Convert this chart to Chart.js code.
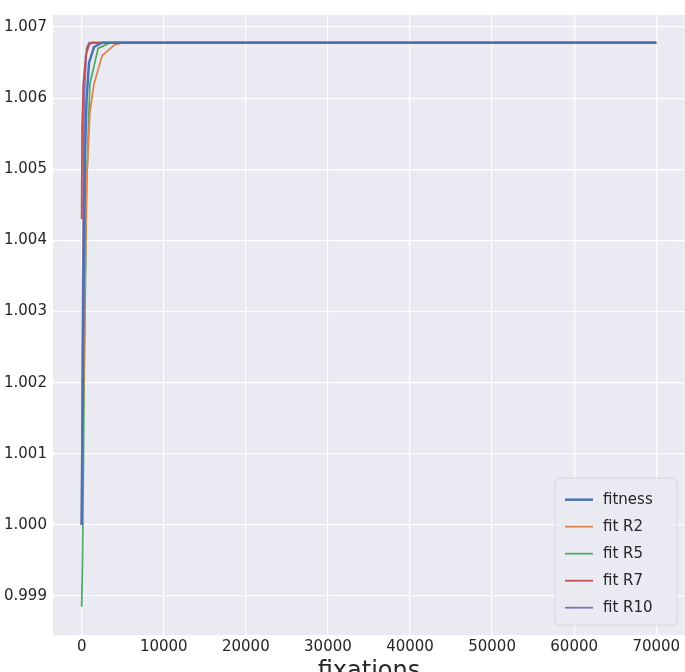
<!DOCTYPE html>
<html><head><meta charset="utf-8">
<script src="https://cdn.jsdelivr.net/npm/chart.js@4/dist/chart.umd.min.js"></script>
<style>html,body{margin:0;background:#fff;overflow:hidden}#wrap{width:685px;height:672px}</style>
</head><body><div id="wrap"><canvas id="c"></canvas></div>
<script>
const labels = ['fitness', 'fit R2', 'fit R5', 'fit R7', 'fit R10'];
const colors = ['#4C72B0', '#DD8452', '#55A868', '#C44E52', '#8172B3'];
const fitness = [[0,1.0],[200,1.003],[400,1.0052],[600,1.006],[900,1.0065],[1500,1.00672],[2500,1.00678],[70000,1.00678]];
const fitR2 = [[0,1.0],[300,1.0025],[600,1.0048],[1000,1.0058],[1500,1.0062],[2500,1.0066],[4000,1.00675],[5000,1.00678],[70000,1.00678]];
const fitR5 = [[0,0.99885],[100,0.9995],[300,1.002],[600,1.0048],[1000,1.0062],[2000,1.0067],[3500,1.00678],[70000,1.00678]];
const fitR7 = [[0,1.0043],[50,1.0056],[200,1.0062],[500,1.0066],[900,1.00675],[1200,1.00678],[70000,1.00678]];
const fitR10 = [[0,1.0],[100,1.003],[300,1.006],[600,1.0067],[900,1.00678],[70000,1.00678]];
const series = [fitness, fitR2, fitR5, fitR7, fitR10];
const widths = [2.5, 1.8, 1.8, 1.8, 1.8];

const bgPlugin = { id: 'bg', beforeDraw(ch) {
  const a = ch.chartArea, ctx = ch.ctx;
  ctx.save(); ctx.fillStyle = '#EAEAF2'; ctx.fillRect(a.left, a.top, a.right - a.left, a.bottom - a.top); ctx.restore();
}};
const legendPlugin = { id: 'leg', afterDraw(ch) {
  const a = ch.chartArea, ctx = ch.ctx, rowH = 27, w = 122, h = rowH * labels.length + 12;
  const x = a.right - w - 8, y = a.bottom - h - 10;
  ctx.save();
  ctx.fillStyle = 'rgba(234,234,242,0.85)'; ctx.strokeStyle = '#d8d8e0'; ctx.lineWidth = 1;
  ctx.beginPath(); ctx.roundRect(x, y, w, h, 4); ctx.fill(); ctx.stroke();
  ctx.font = '15px "DejaVu Sans"'; ctx.textBaseline = 'middle'; ctx.fillStyle = '#262626';
  ch.data.datasets.forEach((d, i) => {
    const cy = y + 8 + rowH * i + rowH / 2;
    ctx.strokeStyle = d.borderColor; ctx.lineWidth = d.borderWidth;
    ctx.beginPath(); ctx.moveTo(x + 10, cy); ctx.lineTo(x + 38, cy); ctx.stroke();
    ctx.fillText(d.label, x + 48, cy);
  });
  ctx.restore();
}};

new Chart(document.getElementById('c'), {
  type: 'line',
  data: { datasets: series.map((s, i) => ({
    label: labels[i], data: s.map(p => ({ x: p[0], y: p[1] })),
    borderColor: colors[i], borderWidth: widths[i], pointRadius: 0, tension: 0
  })) },
  options: {
    responsive: true, maintainAspectRatio: false, animation: false,
    layout: { padding: { top: -9, right: 0, bottom: -14, left: -2 } },
    plugins: { legend: { display: false }, tooltip: { enabled: false } },
    scales: {
      x: { type: 'linear', min: -3500, max: 73500,
        afterBuildTicks: ax => { ax.ticks = [0,10000,20000,30000,40000,50000,60000,70000].map(v => ({ value: v })); },
        grid: { color: '#ffffff', lineWidth: 1.2, drawTicks: false }, border: { display: false },
        ticks: { color: '#262626', font: { size: 15, family: 'DejaVu Sans' }, padding: 3, maxRotation: 0, callback: v => v },
        title: { display: true, text: 'fixations', color: '#262626', font: { size: 24, family: 'DejaVu Sans' }, padding: { top: -2, bottom: 0 } } },
      y: { min: 0.99845, max: 1.00717,
        afterBuildTicks: ax => { ax.ticks = [0.999,1.0,1.001,1.002,1.003,1.004,1.005,1.006,1.007].map(v => ({ value: v })); },
        grid: { color: '#ffffff', lineWidth: 1.2, drawTicks: false }, border: { display: false },
        ticks: { color: '#262626', font: { size: 15, family: 'DejaVu Sans' }, padding: 6, callback: v => v.toFixed(3) } }
    }
  },
  plugins: [bgPlugin, legendPlugin]
});
</script></body></html>
